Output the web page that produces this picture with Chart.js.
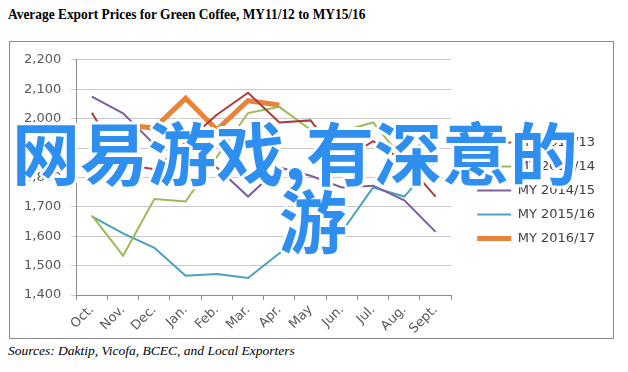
<!DOCTYPE html>
<html>
<head>
<meta charset="utf-8">
<script src="https://cdn.jsdelivr.net/npm/chart.js@4/dist/chart.umd.min.js"></script>
<style>
  body { margin: 0; background: #fff; width: 628px; height: 372px; overflow: hidden; position: relative; }
  #title { position: absolute; left: 8px; top: 6px; font: bold 15px "Liberation Serif", serif; color: #000; white-space: nowrap; transform: scaleX(0.893); transform-origin: left top; }
  #box { position: absolute; left: 9px; top: 41px; width: 603px; height: 296px; border: 1px solid #8c8c8c; }
  #source { position: absolute; left: 8px; top: 343px; font: italic 13.5px "Liberation Serif", serif; color: #000; white-space: nowrap; }
  .wm { position: absolute; font: bold 68px "Noto Sans CJK SC", sans-serif; line-height: 68px; color: #2f8ff0; white-space: nowrap;
        text-shadow: -2px -2px 0 #fff, 2px -2px 0 #fff, -2px 2px 0 #fff, 2px 2px 0 #fff, 0 -3px 0 #fff, 0 3px 0 #fff, -3px 0 0 #fff, 3px 0 0 #fff; }
</style>
</head>
<body>
<div id="title">Average Export Prices for Green Coffee, MY11/12 to MY15/16</div>
<div id="box"><canvas id="canvas"></canvas></div>
<div id="source">Sources: Daktip, Vicofa, BCEC, and Local Exporters</div>
<div class="wm" style="left:12px; top:117px;">网易游戏,有深意的</div>
<div class="wm" style="left:279px; top:185px;">游</div>
<script>
// values
var months = ['Oct.', 'Nov.', 'Dec.', 'Jan.', 'Feb.', 'Mar.', 'Apr.', 'May', 'Jun.', 'Jul.', 'Aug.', 'Sept.'];
var my1213 = [2020, 1845, 1828, 1918, 2013, 2088, 1987, 1994, 1856, 1923, 1856, 1735];
var my1314 = [1671, 1534, 1727, 1718, 1870, 2019, 2040, 1962, 1957, 1987, 1856, 1968];
var my1415 = [2075, 2018, 1912, 1867, 1834, 1735, 1834, 1806, 1766, 1772, 1722, 1615];
var my1516 = [1668, 1610, 1561, 1466, 1472, 1458, 1542, 1656, 1615, 1766, 1735, 1857];
var my1617 = [1927, 1979, 1968, 2069, 1962, 2061, 2046, null, null, null, null, null];
var seriesNames = ['MY 2012/13', 'MY 2013/14', 'MY 2014/15', 'MY 2015/16', 'MY 2016/17'];

(function(){
	var canvas = document.getElementById("canvas");

	function line(label, data, color, width){
		return {
			label: label,
			data: data,
			borderColor: color,
			backgroundColor: color,
			borderWidth: width,
			pointRadius: 0,
			tension: 0,
			fill: false,
			spanGaps: false
		};
	}

	new Chart(canvas, {
		type: 'line',
		data: {
			labels: months,
			datasets: [
				line(seriesNames[0], my1213, '#a83e3b', 2),
				line(seriesNames[1], my1314, '#9bbb59', 2),
				line(seriesNames[2], my1415, '#7b5f9e', 2),
				line(seriesNames[3], my1516, '#4aa3b8', 2),
				line(seriesNames[4], my1617, '#e8843a', 5)
			]
		},
		options: {
			responsive: true,
			maintainAspectRatio: false,
			animation: false,
			events: [],
			layout: { padding: { left: 4, right: 8, top: 0, bottom: -1 } },
			plugins: {
				title: { display: false },
				tooltip: { enabled: false },
				legend: {
					position: 'right',
					maxWidth: 160,
					labels: {
						usePointStyle: true,
						pointStyle: 'line',
						pointStyleWidth: 34,
						padding: 11,
						color: '#404040',
						font: { family: 'DejaVu Sans', size: 13 }
					}
				}
			},
			scales: {
				x: {
					offset: true,
					grid: { display: true, drawOnChartArea: false, drawTicks: true, tickLength: 5, color: '#8c8c8c', offset: true },
					border: { color: '#8c8c8c' },
					ticks: { minRotation: 45, maxRotation: 45, padding: 2, color: '#595959', font: { family: 'DejaVu Sans', size: 13 } }
				},
				y: {
					min: 1400,
					max: 2200,
					grid: { color: '#c8c8c8', tickLength: 5 },
					border: { color: '#8c8c8c' },
					ticks: { stepSize: 100, padding: 10, color: '#595959', font: { family: 'DejaVu Sans', size: 13 } }
				},
				gap: {
					position: 'right',
					display: true,
					grid: { display: false },
					border: { display: false },
					ticks: { display: false },
					afterFit: function(scale){ scale.width = 15; }
				}
			}
		}
	});
}());
</script>
</body>
</html>
